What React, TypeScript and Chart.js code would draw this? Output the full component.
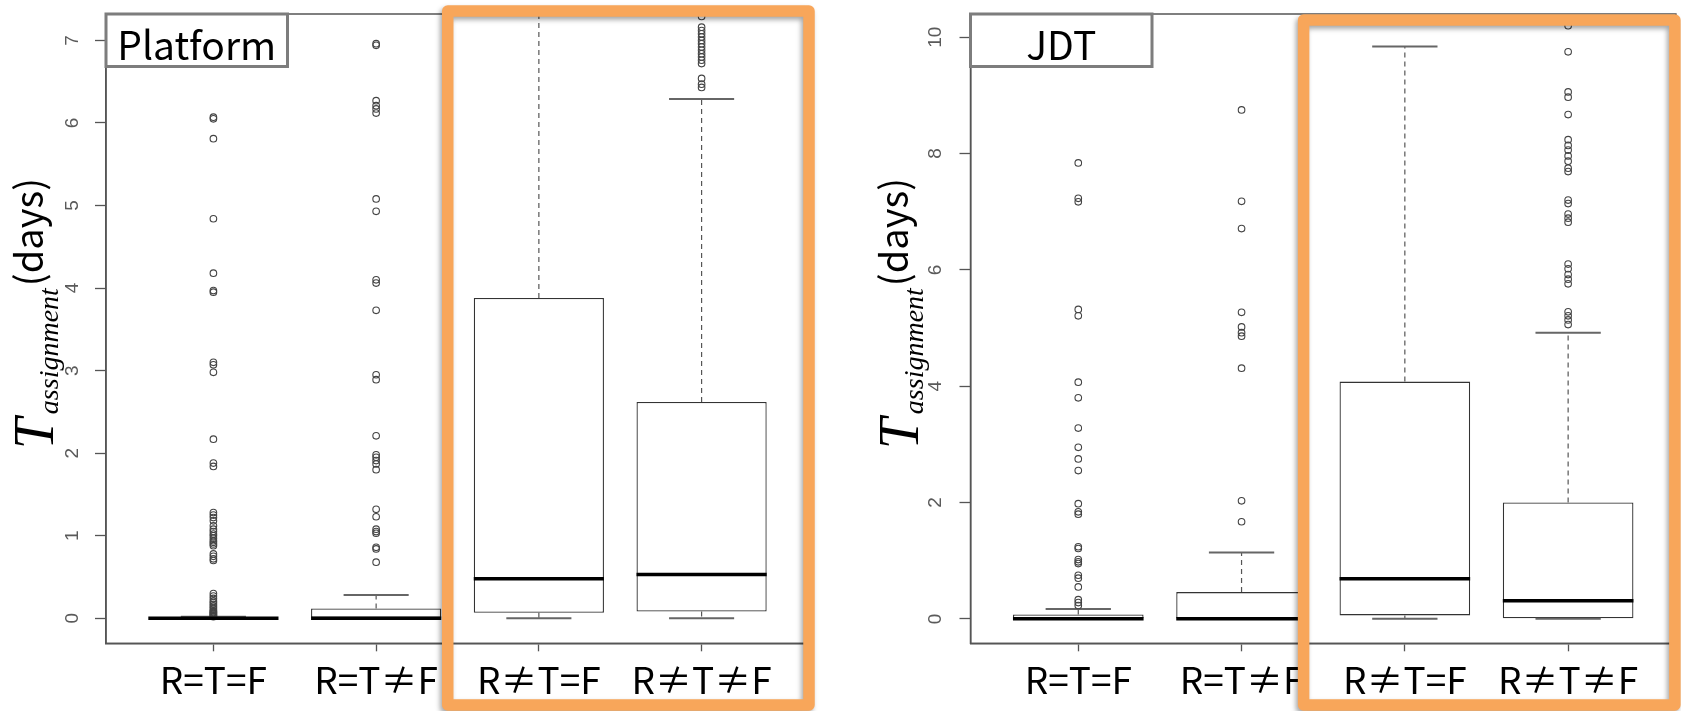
import React, { useEffect, useRef } from "react";
import { Chart, registerables } from "chart.js";

Chart.register(...registerables);

// ---------- data ----------
const CATEGORIES = ["R=T=F", "R=T≠F", "R≠T=F", "R≠T≠F"];
const CATEGORY_X = [1, 2, 3, 4];

// Platform panel
const PLATFORM_Q1 = [0, 0, 0.066, 0.082];
const PLATFORM_MEDIAN = [0, 0, 0.48, 0.53];
const PLATFORM_Q3 = [0.008, 0.12, 3.88, 2.62];
const PLATFORM_WHISKER_LO = [0, 0, 0, 0];
const PLATFORM_WHISKER_HI = [0.02, 0.283, 9.5, 6.29];
const PLATFORM_OUT_1 = [6.07, 6.05, 5.81, 4.84, 4.18, 3.97, 3.95, 3.1, 3.07, 2.98, 2.17, 1.88, 1.84,
  1.28, 1.25, 1.22, 1.18, 1.12, 1.08, 1.05, 1.02, 1.0, 0.97, 0.94, 0.92, 0.9, 0.88, 0.78, 0.75, 0.72, 0.7,
  0.3, 0.27, 0.24, 0.21, 0.19, 0.17, 0.15, 0.13, 0.11, 0.09, 0.08, 0.07, 0.06, 0.05, 0.04, 0.03, 0.02];
const PLATFORM_OUT_2 = [6.96, 6.94, 6.27, 6.21, 6.17, 6.12, 5.08, 4.93, 4.1, 4.06, 3.73, 2.95, 2.89, 2.21,
  1.98, 1.95, 1.91, 1.87, 1.8, 1.32, 1.23, 1.08, 1.05, 1.03, 0.86, 0.84, 0.68];
const PLATFORM_OUT_3: number[] = [];
const PLATFORM_OUT_4 = [7.29, 7.16, 7.12, 7.08, 7.04, 7.0, 6.96, 6.92, 6.88, 6.84, 6.8, 6.76, 6.72, 6.54, 6.47, 6.43];
const PLATFORM_Y_TICKS = [0, 1, 2, 3, 4, 5, 6, 7];

// JDT panel
const JDT_Q1 = [0, 0, 0.06, 0.01];
const JDT_MEDIAN = [0, 0, 0.69, 0.31];
const JDT_Q3 = [0.075, 0.46, 4.08, 2.0];
const JDT_WHISKER_LO = [0, 0, 0, 0];
const JDT_WHISKER_HI = [0.17, 1.14, 9.84, 4.92];
const JDT_OUT_1 = [7.84, 7.23, 7.17, 5.32, 5.21, 4.07, 3.8, 3.28, 2.95, 2.75, 2.55, 1.98, 1.84, 1.8,
  1.24, 1.21, 1.02, 0.98, 0.95, 0.75, 0.7, 0.55, 0.33, 0.28, 0.23];
const JDT_OUT_2 = [8.75, 7.18, 6.71, 5.27, 5.02, 4.92, 4.86, 4.31, 2.03, 1.67];
const JDT_OUT_3: number[] = [];
const JDT_OUT_4 = [10.2, 9.75, 9.06, 8.97, 8.67, 8.24, 8.14, 8.06, 7.96, 7.87, 7.75, 7.69, 7.2, 7.14,
  6.96, 6.89, 6.82, 6.1, 6.02, 5.92, 5.84, 5.76, 5.28, 5.21, 5.14, 5.06];
const JDT_Y_TICKS = [0, 2, 4, 6, 8, 10];

// ---------- styling constants ----------
const BOX_HALF = 0.4;
const CAP_HALF = 0.2;
const AXIS_GRAY = "#555";
const ORANGE = "#F8A65A";
const H = 711;

type Panel = {
  label: string;
  q1: number[]; med: number[]; q3: number[]; lo: number[]; hi: number[];
  outliers: number[][];
  yTicks: number[]; yMin: number; yMax: number;
  canvasWidth: number; yAxisWidth: number; padRight: number; tickPad: number;
  hlStart: number; hlTop: number; hlRight: number;
};

const PANELS: Panel[] = [
  {
    label: "Platform",
    q1: PLATFORM_Q1, med: PLATFORM_MEDIAN, q3: PLATFORM_Q3, lo: PLATFORM_WHISKER_LO, hi: PLATFORM_WHISKER_HI,
    outliers: [PLATFORM_OUT_1, PLATFORM_OUT_2, PLATFORM_OUT_3, PLATFORM_OUT_4],
    yTicks: PLATFORM_Y_TICKS, yMin: -0.303, yMax: 7.32,
    canvasWidth: 840, yAxisWidth: 106, padRight: 31, tickPad: 17,
    hlStart: 2.44, hlTop: -3, hlRight: 0,
  },
  {
    label: "JDT",
    q1: JDT_Q1, med: JDT_MEDIAN, q3: JDT_Q3, lo: JDT_WHISKER_LO, hi: JDT_WHISKER_HI,
    outliers: [JDT_OUT_1, JDT_OUT_2, JDT_OUT_3, JDT_OUT_4],
    yTicks: JDT_Y_TICKS, yMin: -0.42, yMax: 10.4,
    canvasWidth: 841, yAxisWidth: 130.5, padRight: 5, tickPad: 13.5,
    hlStart: 2.38, hlTop: 6, hlRight: -1,
  },
];

function buildDatasets(p: Panel) {
  const boxes = CATEGORY_X.map((x, i) => ({ x, y: [p.q1[i], p.q3[i]] }));
  const whiskers: any[] = [];
  const caps: any[] = [];
  const medians: any[] = [];
  CATEGORY_X.forEach((x, i) => {
    whiskers.push({ x, y: p.q3[i] }, { x, y: p.hi[i] }, { x, y: null });
    whiskers.push({ x, y: p.q1[i] }, { x, y: p.lo[i] }, { x, y: null });
    caps.push({ x: x - CAP_HALF, y: p.hi[i] }, { x: x + CAP_HALF, y: p.hi[i] }, { x, y: null });
    caps.push({ x: x - CAP_HALF, y: p.lo[i] }, { x: x + CAP_HALF, y: p.lo[i] }, { x, y: null });
    medians.push({ x: x - BOX_HALF, y: p.med[i] }, { x: x + BOX_HALF, y: p.med[i] }, { x, y: null });
  });
  const points = p.outliers.flatMap((arr, i) => arr.map((v) => ({ x: CATEGORY_X[i], y: v })));

  const lineBase = {
    type: "line" as const,
    pointRadius: 0,
    pointHoverRadius: 0,
    fill: false,
    tension: 0,
    spanGaps: false,
    borderCapStyle: "butt" as const,
  };

  return [
    {
      type: "bar" as const,
      data: boxes,
      backgroundColor: "#ffffff",
      borderColor: "#333",
      borderWidth: 1.3,
      borderSkipped: false,
      barPercentage: 0.8,
      categoryPercentage: 1,
      order: 5,
    },
    { ...lineBase, data: whiskers, borderColor: "#555", borderWidth: 1.2, borderDash: [5, 4], order: 4 },
    { ...lineBase, data: caps, borderColor: "#666", borderWidth: 2, order: 3 },
    {
      type: "scatter" as const,
      data: points,
      showLine: false,
      pointStyle: "circle",
      pointRadius: 3.3,
      pointBorderWidth: 1.1,
      pointBackgroundColor: "rgba(0,0,0,0)",
      pointBorderColor: "#444",
      order: 2,
    },
    { ...lineBase, data: medians, borderColor: "#000", borderWidth: 3.5, order: 1 },
  ];
}

function decorPlugin(p: Panel) {
  return {
    id: "panelDecor",
    afterDatasetsDraw(chart: any) {
      const { ctx, chartArea } = chart;
      const { left, top, right, bottom } = chartArea;
      ctx.save();
      // frame
      ctx.strokeStyle = AXIS_GRAY;
      ctx.lineWidth = 1.5;
      ctx.strokeRect(left, top, right - left, bottom - top);
      // label box
      const bw = 181.5, bh = 52.5;
      ctx.fillStyle = "#fff";
      ctx.fillRect(left, top, bw, bh);
      ctx.strokeStyle = "#7d7d7d";
      ctx.lineWidth = 3;
      ctx.strokeRect(left, top, bw, bh);
      ctx.fillStyle = "#000";
      ctx.font = '39px "Noto Sans CJK JP"';
      ctx.textAlign = "center";
      ctx.textBaseline = "alphabetic";
      ctx.fillText(p.label, left + bw / 2, top + 46);
      // y-axis title
      ctx.translate(left - 53, bottom - 194);
      ctx.rotate(-Math.PI / 2);
      ctx.textAlign = "left";
      ctx.font = 'italic 56px "Liberation Serif"';
      ctx.fillText("T", 0, 0);
      const tw = ctx.measureText("T").width;
      ctx.font = 'italic 28px "Liberation Serif"';
      const subX = tw + 4;
      ctx.fillText("assignment", subX, 5);
      const sw = ctx.measureText("assignment").width;
      ctx.font = '38px "Noto Sans CJK JP"';
      ctx.fillText("(days)", subX + sw + 2, -10);
      ctx.restore();
    },
    afterDraw(chart: any) {
      const { ctx, chartArea, scales } = chart;
      const x0 = scales.x.getPixelForValue(p.hlStart);
      const x1 = chartArea.right + p.hlRight;
      const y0 = chartArea.top + p.hlTop;
      const y1 = chart.height - 6;
      ctx.save();
      ctx.shadowColor = "rgba(0,0,0,0.35)";
      ctx.shadowBlur = 5;
      ctx.shadowOffsetX = -2;
      ctx.shadowOffsetY = 3;
      ctx.strokeStyle = ORANGE;
      ctx.lineWidth = 11.5;
      ctx.lineJoin = "round";
      ctx.strokeRect(x0, y0, x1 - x0, y1 - y0);
      ctx.restore();
    },
  };
}

function makeConfig(p: Panel): any {
  return {
    type: "bar",
    data: { datasets: buildDatasets(p) },
    options: {
      animation: false,
      responsive: false,
      events: [],
      layout: { padding: { left: 0, right: p.padRight, top: 14, bottom: 0 } },
      plugins: { legend: { display: false }, tooltip: { enabled: false } },
      scales: {
        x: {
          type: "linear",
          min: 0.34,
          max: 4.66,
          offset: false,
          afterBuildTicks: (s: any) => {
            s.ticks = CATEGORY_X.map((v) => ({ value: v }));
          },
          afterFit: (s: any) => {
            s.height = H - 643.3;
            s.paddingLeft = 0;
            s.paddingRight = 0;
          },
          ticks: {
            autoSkip: false,
            maxRotation: 0,
            minRotation: 0,
            padding: 6,
            color: "#000",
            font: { family: '"Noto Sans CJK JP"', size: 37 },
            callback: (_v: any, i: number) => CATEGORIES[i],
          },
          grid: { drawOnChartArea: false, drawTicks: true, tickLength: 8, tickColor: AXIS_GRAY, tickWidth: 1.3, offset: false },
          border: { display: true, color: AXIS_GRAY, width: 1.5 },
        },
        y: {
          type: "linear",
          min: p.yMin,
          max: p.yMax,
          afterBuildTicks: (s: any) => {
            s.ticks = p.yTicks.map((v) => ({ value: v }));
          },
          afterFit: (s: any) => {
            s.width = p.yAxisWidth;
            s.paddingTop = 0;
            s.paddingBottom = 0;
          },
          ticks: {
            autoSkip: false,
            minRotation: 90,
            maxRotation: 90,
            crossAlign: "center",
            padding: p.tickPad,
            color: "#5a5a5a",
            font: { family: '"Liberation Sans"', size: 19 },
          },
          grid: { drawOnChartArea: false, drawTicks: true, tickLength: 11, tickColor: AXIS_GRAY, tickWidth: 1.3 },
          border: { display: true, color: AXIS_GRAY, width: 1.5 },
        },
      },
    },
    plugins: [decorPlugin(p)],
  };
}

export default function App() {
  const ref1 = useRef<HTMLCanvasElement | null>(null);
  const ref2 = useRef<HTMLCanvasElement | null>(null);

  useEffect(() => {
    const charts: Chart[] = [];
    [ref1.current, ref2.current].forEach((c, i) => {
      if (c) charts.push(new Chart(c, makeConfig(PANELS[i])));
    });
    return () => charts.forEach((ch) => ch.destroy());
  }, []);

  return (
    <div style={{ position: "absolute", left: 0, top: 0, width: 1681, height: H, background: "#fff", overflow: "hidden" }}>
      <canvas
        ref={ref1}
        width={PANELS[0].canvasWidth}
        height={H}
        style={{ position: "absolute", left: 0, top: 0, width: PANELS[0].canvasWidth, height: H }}
      />
      <canvas
        ref={ref2}
        width={PANELS[1].canvasWidth}
        height={H}
        style={{ position: "absolute", left: PANELS[0].canvasWidth, top: 0, width: PANELS[1].canvasWidth, height: H }}
      />
    </div>
  );
}
